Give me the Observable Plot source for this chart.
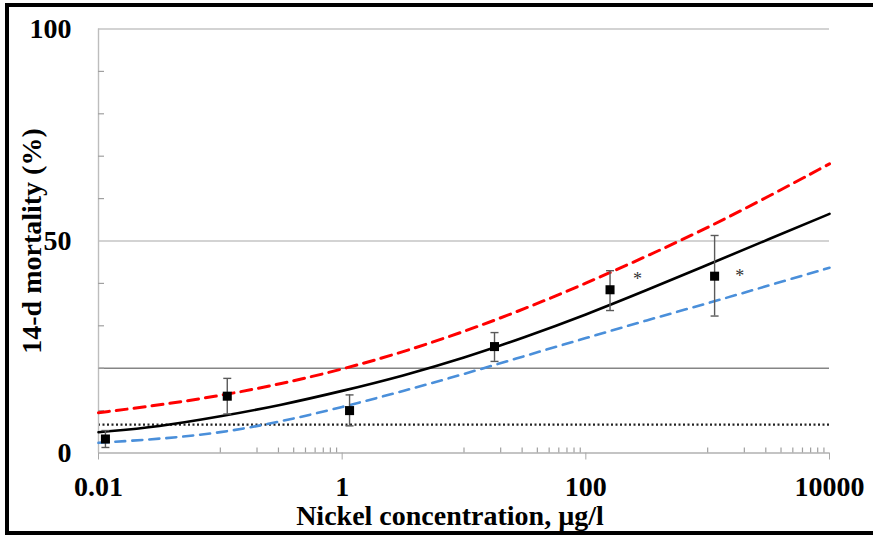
<!DOCTYPE html>
<html><head><meta charset="utf-8">
<script src="https://cdn.jsdelivr.net/npm/d3@7"></script>
<script src="https://cdn.jsdelivr.net/npm/@observablehq/plot@0.6"></script>
<style>
html,body{margin:0;padding:0;background:#fff;overflow:hidden}
#wrap{position:relative;width:873px;height:537px;overflow:hidden}
#border{position:absolute;left:5px;top:3px;width:880px;height:524px;border:4px solid #000;border-right:none;pointer-events:none}
</style></head><body><div id="wrap"><div id="chart"></div><div id="border"></div></div>
<script>
// Fitted curves at these concentrations
const curveX = [0.01, 0.0316, 0.1, 0.316, 1, 3.16, 10, 31.6, 100, 316, 1000, 3162, 10000];
const fitMid   = [4.9, 6.2, 8.6, 11.3, 14.6, 18.2, 22.4, 27.3, 32.6, 38.4, 44.4, 50.4, 56.4];
const fitUpper = [9.5, 11.3, 13.5, 16.3, 19.7, 23.8, 28.6, 34.0, 40.0, 46.4, 53.1, 60.5, 68.2];
const fitLower = [2.4, 3.3, 4.7, 7.4, 10.8, 14.6, 18.6, 22.9, 27.1, 31.3, 35.3, 39.5, 43.7];
// Observed mortality with error bars
const obsX  = [0.0114, 0.114, 1.15, 17.8, 158, 1140];
const obsY  = [3.3, 13.4, 10.0, 25.1, 38.5, 41.7];
const obsLo = [1.3, 9.2, 6.4, 21.6, 33.6, 32.3];
const obsHi = [5.3, 17.6, 13.7, 28.4, 43.0, 51.3];
// Significance markers
const starX = [265, 1830];
const starY = [42.1, 42.8];
const starText = ["*", "*"];
// Reference lines
const refLine = [20];
const controlLine = [6.7];
const gridLines = [50, 100];
// Axes
const xDomain = [0.01, 10000];
const yDomain = [0, 100];
const xTicks = [0.01, 1, 100, 10000];
const xTickLabels = ["0.01", "1", "100", "10000"];
const xMinor = [0.1, 0.2, 0.3, 0.4, 0.5, 0.6, 0.7, 0.8, 0.9,
                10, 20, 30, 40, 50, 60, 70, 80, 90,
                1000, 2000, 3000, 4000, 5000, 6000, 7000, 8000, 9000];
const yTicks = [0, 50, 100];
const yMinor = [10, 20, 30, 40, 60, 70, 80, 90];
const xTitle = "Nickel concentration, µg/l";
const yTitle = "14-d mortality (%)";

const curves = curveX.map((x, i) => ({x, mid: fitMid[i], up: fitUpper[i], lo: fitLower[i]}));
const obs = obsX.map((x, i) => ({x, y: obsY[i], lo: obsLo[i], hi: obsHi[i]}));
const stars = starX.map((x, i) => ({x, y: starY[i], t: starText[i]}));

const capSymbol = {draw(ctx, size) { const r = Math.sqrt(size / Math.PI); ctx.moveTo(-r, 0); ctx.lineTo(r, 0); }};
const serif = "'Liberation Serif', 'Times New Roman', serif";

const chart = Plot.plot({
  width: 873, height: 537,
  marginLeft: 98, marginRight: 44, marginTop: 28.5, marginBottom: 84.5,
  style: {fontFamily: serif, fontSize: "28px", fontWeight: "bold", background: "transparent", overflow: "visible", color: "#000"},
  x: {type: "log", domain: xDomain},
  y: {domain: yDomain},
  marks: [
    Plot.ruleY(gridLines, {stroke: "#c4c4c4", strokeWidth: 1.6}),
    Plot.ruleY(refLine, {stroke: "#858585", strokeWidth: 1.6}),
    Plot.ruleY(controlLine, {stroke: "#222", strokeWidth: 2.4, strokeDasharray: "2,2.5"}),
    Plot.ruleX([xDomain[0]], {stroke: "#bdbdbd", strokeWidth: 1.4}),
    Plot.ruleY([yDomain[0]], {stroke: "#b0b0b0", strokeWidth: 1.4}),
    Plot.axisY(yMinor, {tickSize: 6, dx: 6, tickFormat: () => "", stroke: "#a0a0a0", strokeWidth: 1.2, label: null}),
    Plot.axisY(yTicks, {tickSize: 0, tickPadding: 27, tickFormat: d => String(d), label: null, fill: "#000"}),
    Plot.axisX(xMinor, {tickSize: 5, dy: -5, tickFormat: () => "", stroke: "#a0a0a0", strokeWidth: 1.2, label: null}),
    Plot.axisX(xTicks, {tickSize: 7, tickPadding: 16, tickFormat: d => xTickLabels[xTicks.indexOf(d)], stroke: "#a8a8a8", label: null, fill: "#000"}),
    Plot.text([xTitle], {frameAnchor: "bottom", lineAnchor: "top", textAnchor: "middle", dy: 52, dx: -14, fill: "#000"}),
    Plot.text([yTitle], {frameAnchor: "left", rotate: -90, textAnchor: "middle", lineAnchor: "middle", dx: -66, fill: "#000"}),
    Plot.line(curves, {x: "x", y: "up", stroke: "#ff0000", strokeWidth: 3, strokeDasharray: "11,7", curve: "basis"}),
    Plot.line(curves, {x: "x", y: "lo", stroke: "#4a8fda", strokeWidth: 2.6, strokeDasharray: "10,7", curve: "basis"}),
    Plot.line(curves, {x: "x", y: "mid", stroke: "#000", strokeWidth: 2.6, curve: "basis"}),
    Plot.ruleX(obs, {x: "x", y1: "lo", y2: "hi", stroke: "#5a5a5a", strokeWidth: 1.4}),
    Plot.dot(obs, {x: "x", y: "lo", symbol: capSymbol, r: 4, stroke: "#5a5a5a", strokeWidth: 1.4}),
    Plot.dot(obs, {x: "x", y: "hi", symbol: capSymbol, r: 4, stroke: "#5a5a5a", strokeWidth: 1.4}),
    Plot.dot(obs, {x: "x", y: "y", symbol: "square", r: 5.1, fill: "#000", stroke: null}),
    Plot.text(stars, {x: "x", y: "y", text: "t", fontSize: 18, fontWeight: "normal", fill: "#333", dy: 5})
  ]
});
document.getElementById("chart").appendChild(chart);
</script></body></html>
